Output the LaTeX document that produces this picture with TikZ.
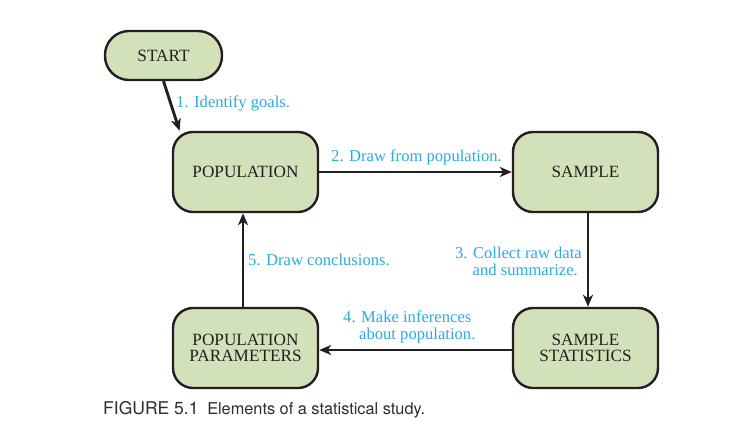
\documentclass[tikz,border=0pt]{standalone}
\usepackage{fontspec}
\setmainfont{Liberation Serif}
\newfontfamily\capfont{TeX Gyre Heros}
\usetikzlibrary{arrows.meta}
\definecolor{boxfill}{RGB}{211,225,186}
\definecolor{boxline}{RGB}{35,31,32}
\definecolor{labcol}{RGB}{41,171,226}
\definecolor{capcol}{RGB}{45,45,45}
\tikzset{
  stepbox/.style={draw=boxline, line width=2.4pt, fill=boxfill, rounded corners=20pt,
    minimum width=145pt, minimum height=80pt, inner sep=0pt, align=center,
    text=boxline, font=\fontsize{17.2}{16}\selectfont},
  startbox/.style={stepbox, minimum width=117pt, minimum height=49pt, rounded corners=24pt},
  arr/.style={draw=boxline, line width=2.9pt, -{Stealth[length=12pt,width=10pt,inset=3.5pt]}},
  lab/.style={text=labcol, inner sep=0pt, font=\fontsize{16.6}{17}\selectfont},
}
\begin{document}
\begin{tikzpicture}[x=1pt,y=-1pt]
\useasboundingbox (0,0) rectangle (753,440);
\node[startbox] (start) at (163.5,55.5) {START};
\node[stepbox] (pop) at (245.5,172) {POPULATION};
\node[stepbox] (sample) at (585.5,172) {SAMPLE};
\node[stepbox] (stats) at (585.5,348) {SAMPLE\\STATISTICS};
\node[stepbox] (params) at (245.5,348) {POPULATION\\PARAMETERS};

\draw[arr] (start.south) -- (pop.148);
\draw[arr] (pop.east) -- (sample.west);
\draw[arr] ([xshift=2.5pt]sample.south) -- ([xshift=2.5pt]stats.north);
\draw[arr] ([yshift=-2pt]stats.west) -- ([yshift=-2pt]params.east);
\draw[arr] ([xshift=-2.5pt]params.north) -- ([xshift=-2.5pt]pop.south);

\node[lab, anchor=base west] (l1) at (176,107) {1. Identify goals.};
\node[lab, anchor=base west] (l2) at (331,161) {2. Draw from population.};
\node[lab, anchor=base east, align=right] (l3a) at (582,258) {3. Collect raw data};
\node[lab, anchor=base east] (l3b) at (578,275) {and summarize.};
\node[lab, anchor=base west] (l4a) at (343,322) {4. Make inferences};
\node[lab, anchor=base west] (l4b) at (359,339) {about population.};
\node[lab, anchor=base west] (l5) at (248,265) {5. Draw conclusions.};

\node[anchor=base west, inner sep=0pt, text=capcol, font=\capfont\fontsize{17.5}{18}\selectfont] (cap) at (103,414) {FIGURE 5.1\hspace{0.5em}{\fontsize{16.3}{18}\selectfont Elements of a statistical study.}};
\end{tikzpicture}
\end{document}
